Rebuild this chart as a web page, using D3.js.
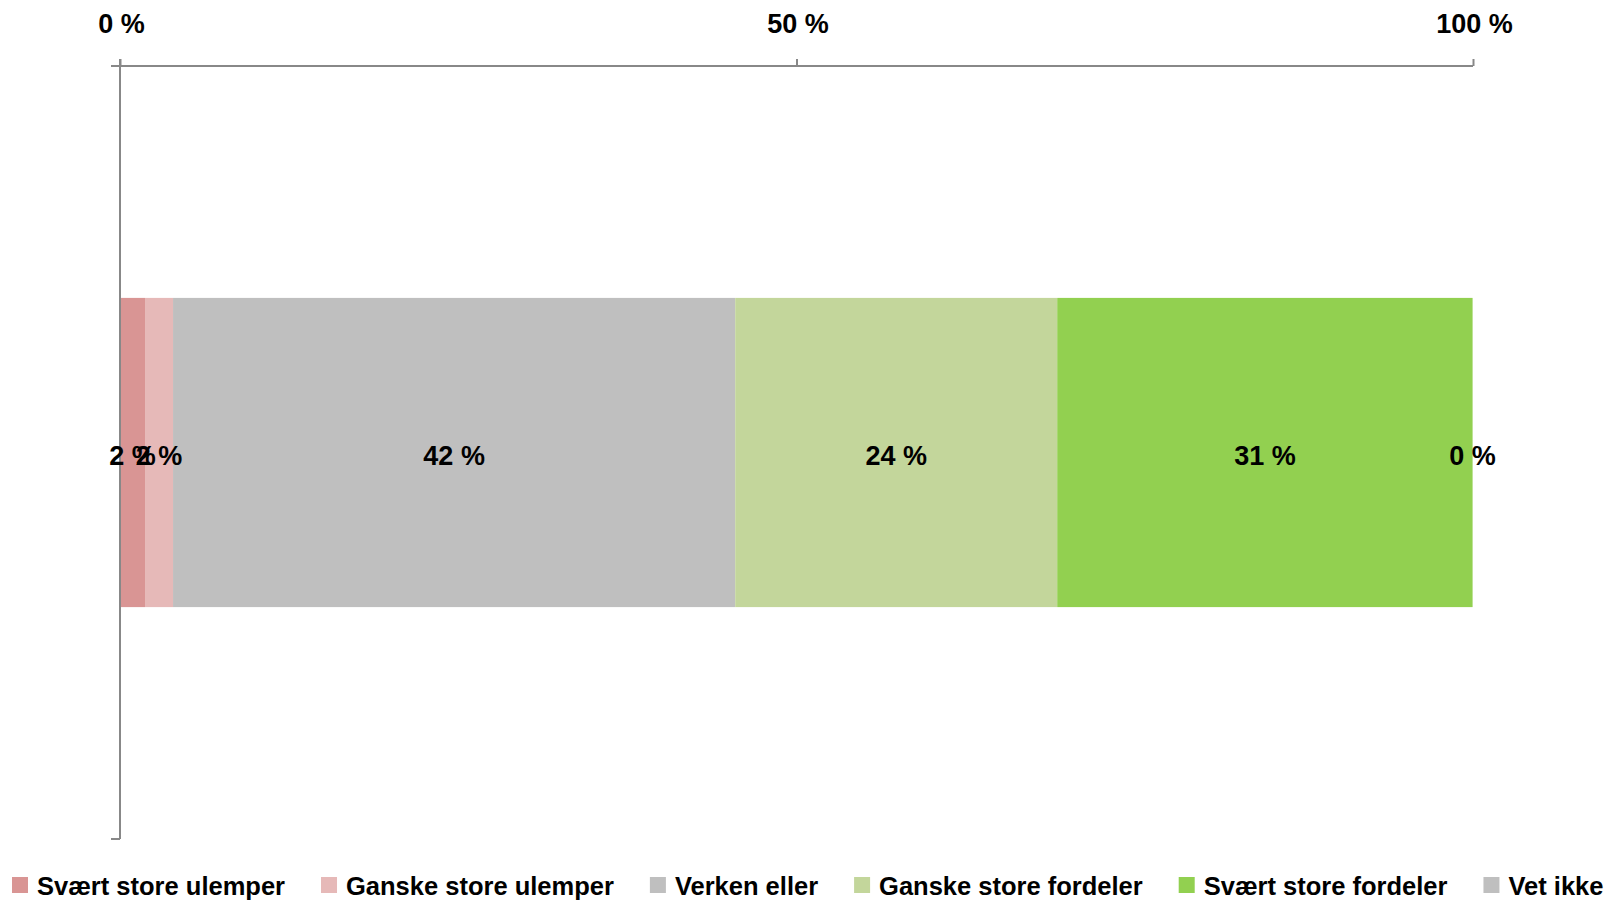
<!DOCTYPE html>
<html>
<head>
<meta charset="utf-8">
<script src="https://cdn.jsdelivr.net/npm/d3@7"></script>
<style>
  html, body { margin: 0; padding: 0; background: #ffffff; }
  svg { display: block; }
</style>
</head>
<body>
<svg id="chart" width="1610" height="900"></svg>
<script>
// ---- data ----
const categories = ["Alle"];
const seriesNames = ["Svært store ulemper", "Ganske store ulemper", "Verken eller", "Ganske store fordeler", "Svært store fordeler", "Vet ikke"];
const seriesValues = [1.85, 2.07, 41.55, 23.8, 30.7, 0];
const seriesLabels = ["2 %", "2 %", "42 %", "24 %", "31 %", "0 %"];
const seriesColors = ["#d99594", "#e6b9b8", "#bfbfbf", "#c3d69b", "#92d050", "#bfbfbf"];
const xTickValues = [0, 50, 100];
const xTickLabels = ["0 %", "50 %", "100 %"];

(function () {
  // ---- layout ----
  const svg = d3.select("#chart");
  const pLeft = 120, pRight = 1473, pTop = 66, pBottom = 839;
  const font = "'Liberation Sans', Arial, Helvetica, sans-serif";

  const x = d3.scaleLinear().domain([0, 100]).range([pLeft, pRight]);
  const y = d3.scaleBand().domain(categories).range([pTop, pBottom]).paddingInner(0).paddingOuter(0.75);

  // stacked segments
  let cum = 0;
  const segs = seriesValues.map((v, i) => {
    const s = { name: seriesNames[i], x0: cum, x1: cum + v, label: seriesLabels[i], color: seriesColors[i] };
    cum += v;
    return s;
  });

  svg.append("g").selectAll("rect.seg").data(segs).join("rect")
    .attr("class", "seg")
    .attr("x", d => x(d.x0))
    .attr("width", d => Math.max(0, x(d.x1) - x(d.x0)))
    .attr("y", y(categories[0]))
    .attr("height", y.bandwidth())
    .attr("fill", d => d.color);

  // axes
  const axisColor = "#888888";
  const xAxis = d3.axisTop(x).tickValues(xTickValues).tickSize(7).tickFormat((d, i) => xTickLabels[i]);
  const xg = svg.append("g").attr("transform", `translate(0,${pTop})`).call(xAxis);
  xg.select(".domain").attr("stroke", axisColor).attr("stroke-width", 2).attr("d", `M${pLeft - 9},0H${pRight}`);
  xg.selectAll(".tick line").attr("stroke", axisColor).attr("stroke-width", 2);
  xg.selectAll(".tick text")
    .attr("x", 1).attr("y", -33).attr("dy", 0)
    .style("font-family", font).style("font-size", "27px").style("font-weight", "bold").attr("fill", "#000");

  // category axis (left) with ticks at band boundaries
  const yg = svg.append("g");
  yg.append("line").attr("x1", pLeft).attr("x2", pLeft).attr("y1", pTop - 7).attr("y2", pBottom)
    .attr("stroke", axisColor).attr("stroke-width", 2);
  yg.selectAll("line.bt").data([pTop, pBottom]).join("line")
    .attr("class", "bt")
    .attr("x1", pLeft - 9).attr("x2", pLeft).attr("y1", d => d).attr("y2", d => d)
    .attr("stroke", axisColor).attr("stroke-width", 2);

  // data labels
  svg.append("g").selectAll("text").data(segs).join("text")
    .attr("x", d => (x(d.x0) + x(d.x1)) / 2)
    .attr("y", y(categories[0]) + y.bandwidth() / 2 + 12)
    .attr("text-anchor", "middle")
    .style("font-family", font).style("font-size", "27px").style("font-weight", "bold")
    .attr("fill", "#000")
    .text(d => d.label);

  // legend
  const lg = svg.append("g");
  let lx = 12;
  seriesNames.forEach((name, i) => {
    lg.append("rect").attr("x", lx).attr("y", 877).attr("width", 16).attr("height", 16).attr("fill", seriesColors[i]);
    const t = lg.append("text").attr("x", lx + 25).attr("y", 895)
      .style("font-family", font).style("font-size", "25.5px").style("font-weight", "bold")
      .attr("fill", "#000").text(name);
    lx = lx + 25 + t.node().getComputedTextLength() + 36;
  });
})();
</script>
</body>
</html>
